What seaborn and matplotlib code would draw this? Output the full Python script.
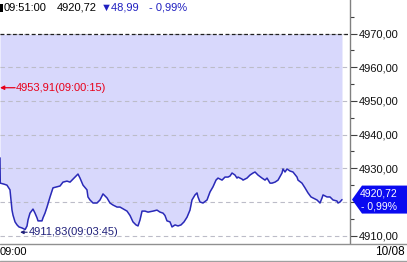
import matplotlib
matplotlib.use("Agg")
import matplotlib.pyplot as plt
import matplotlib.ticker as mticker
from matplotlib.patches import Polygon, Rectangle
from matplotlib.lines import Line2D
import seaborn as sns
import pandas as pd

# ---- data (minutes after 09:00, index value) ----
minutes = [0.00, 0.04, 0.60, 1.04, 1.34, 1.49, 1.79, 1.94, 2.24, 2.54, 2.83, 3.28, 3.75,
           4.03, 4.18, 4.47, 4.92, 5.22, 5.52, 5.67, 6.26, 6.41, 6.71, 7.01, 7.46, 7.90,
           8.50, 8.95, 9.39, 9.99, 10.44, 10.89, 11.48, 11.63, 11.93, 12.38, 12.97, 13.12,
           13.42, 13.87, 14.46, 14.91, 15.36, 15.96, 16.40, 16.85, 17.45, 17.89, 18.34,
           18.94, 19.39, 19.83, 20.28, 20.58, 20.88, 21.18, 21.62, 22.07, 22.82, 23.41,
           23.86, 24.31, 24.60, 24.90, 25.35, 25.65, 26.10, 26.54, 26.99, 27.44, 27.89,
           28.33, 28.63, 29.08, 29.38, 29.53, 29.82, 30.27, 30.87, 31.32, 31.76, 32.21,
           32.51, 33.11, 33.55, 34.00, 34.30, 34.60, 35.04, 35.34, 35.49, 36.09, 36.24,
           36.83, 37.28, 37.73, 38.03, 38.47, 39.07, 39.52, 39.82, 40.26, 40.56, 41.01,
           41.46, 42.05, 42.20, 42.50, 42.80, 43.24, 43.69, 44.29, 44.44, 45.03, 45.48,
           45.93, 46.38, 46.67, 47.27, 47.72, 48.02, 48.17, 48.76, 49.21, 49.66, 50.25,
           50.40, 50.70, 51.00]
prices = [4933.1, 4925.6, 4925.3, 4925.0, 4924.1, 4923.6, 4917.6, 4916.1, 4914.1, 4913.2,
          4912.6, 4912.3, 4911.83, 4912.9, 4914.7, 4916.7, 4917.9, 4916.7, 4915.3, 4914.4,
          4914.4, 4915.3, 4916.7, 4918.5, 4921.5, 4924.2, 4924.5, 4924.75, 4925.9, 4926.2,
          4925.9, 4926.8, 4928.0, 4928.3, 4927.1, 4925.0, 4923.6, 4921.5, 4920.6, 4919.7,
          4919.7, 4920.6, 4922.4, 4921.2, 4919.7, 4919.1, 4918.5, 4918.5, 4918.0, 4917.3,
          4916.0, 4914.1, 4913.2, 4912.9, 4914.7, 4917.3, 4917.3, 4917.0, 4917.3, 4917.6,
          4917.0, 4916.7, 4916.0, 4914.4, 4914.1, 4912.6, 4913.2, 4912.9, 4913.2, 4914.1,
          4915.5, 4917.6, 4920.6, 4922.1, 4922.7, 4921.5, 4920.0, 4919.7, 4920.6, 4923.0,
          4924.5, 4926.5, 4927.1, 4926.5, 4927.4, 4927.4, 4927.7, 4928.6, 4928.0, 4927.1,
          4927.4, 4926.8, 4926.5, 4927.1, 4928.0, 4928.6, 4928.9, 4928.0, 4927.1, 4926.5,
          4927.1, 4925.6, 4925.6, 4925.9, 4926.5, 4928.6, 4929.8, 4928.9, 4929.8, 4929.2,
          4928.9, 4927.4, 4926.5, 4925.6, 4924.2, 4922.7, 4921.5, 4921.2, 4920.6, 4919.7,
          4921.2, 4922.1, 4921.5, 4921.5, 4920.6, 4920.3, 4919.7, 4920.0, 4920.72]
prev_close = 4969.71
last_price = 4920.72
change = -48.99
change_pct = -0.99
high_value, high_time = 4953.91, "09:00:15"
high_minute = 0.25
low_value, low_time = 4911.83, "09:03:45"
low_minute = 3.75
y_ticks = [4910, 4920, 4930, 4940, 4950, 4960, 4970]
hidden_tick_label = 4920  # covered by the current-price tag
x_start_label = "09:00"
date_label = "10/08"
header_time = "09:51:00"

df = pd.DataFrame({"minute": minutes, "price": prices})

W, H = 407, 262
sns.set_style("white")
plt.rcParams["font.family"] = ["Liberation Sans", "DejaVu Sans"]
NARROW = ["Liberation Sans Narrow", "Liberation Sans", "DejaVu Sans"]

fig = plt.figure(figsize=(W / 100, H / 100), dpi=100)
fig.patch.set_facecolor("white")

def fx(px):
    return px / W

def fy(py):
    return 1 - py / H

def fmt(v):
    return f"{v:.2f}".replace(".", ",")

ax = fig.add_axes([0, fy(243), fx(350), 243 / H])
ax.set_facecolor("white")

px_per_unit = 3.37
y_top = 4970 + 33.5 / px_per_unit
y_bot = 4970 - (243 - 33.5) / px_per_unit
ax.set_ylim(y_bot, y_top)
ax.set_xlim(0, 350 * 51 / 342)

line_color = "#2a2ab8"
ax.fill_between(df["minute"], df["price"], prev_close, color="#d8d8fc", lw=0, zorder=1)
for v in y_ticks:
    ax.axhline(v, color="#bcbcc8", lw=0.8, ls=(0, (4, 3)), zorder=2)
ax.axhline(prev_close, color="#202020", lw=0.9, ls=(0, (3, 2)), zorder=3)
sns.lineplot(data=df, x="minute", y="price", ax=ax, color=line_color, lw=1.1,
             zorder=4, estimator=None, sort=False)

# axes styling
for s in ["top", "left", "bottom"]:
    ax.spines[s].set_visible(False)
ax.spines["right"].set_color("#808080")
ax.spines["right"].set_linewidth(1.0)
ax.set_xlabel("")
ax.set_ylabel("")
ax.set_xticks([])
ax.yaxis.tick_right()
ax.set_yticks(y_ticks)
ax.yaxis.set_minor_locator(mticker.MultipleLocator(5))
ax.yaxis.set_major_formatter(mticker.FuncFormatter(
    lambda v, p: "" if abs(v - hidden_tick_label) < 1e-6 else fmt(v)))
ax.tick_params(axis="y", which="major", direction="out", length=5, width=0.8,
               color="#404040", pad=1, labelsize=8, labelcolor="#101010")
ax.tick_params(axis="y", which="minor", direction="out", length=3, width=0.8, color="#404040")
for lab in ax.get_yticklabels():
    lab.set_fontfamily(NARROW)

# high / low annotations
red = "#e8001a"
ax.annotate("", xy=(0, high_value), xytext=(high_minute + 2.0, high_value),
            arrowprops=dict(arrowstyle="-|>", color=red, lw=0.9, mutation_scale=6,
                            shrinkA=0, shrinkB=0), zorder=6, annotation_clip=False)
ax.text(high_minute + 2.1, high_value, fmt(high_value) + f"({high_time})",
        color=red, fontsize=8, va="center", ha="left", zorder=6, family=NARROW)
navy = "#20207a"
ax.annotate("", xy=(low_minute - 0.75, low_value - 0.8), xytext=(low_minute + 0.3, low_value - 0.8),
            arrowprops=dict(arrowstyle="-|>", color=navy, lw=0.8, mutation_scale=5,
                            shrinkA=0, shrinkB=0), zorder=6)
ax.text(low_minute + 0.55, low_value - 0.8, fmt(low_value) + f"({low_time})",
        color=navy, fontsize=8, va="center", ha="left", zorder=6, family=NARROW)

# header
blue_txt = "#2020c0"
fig.patches.append(Rectangle((0, fy(12)), fx(3), 8 / H, transform=fig.transFigure,
                             facecolor="black", edgecolor="none"))
fig.text(fx(4), fy(8), header_time, fontsize=8, color="black", va="center", ha="left")
fig.text(fx(57), fy(8), fmt(last_price), fontsize=8, color="black", va="center", ha="left")
fig.text(fx(101), fy(8), "▼" + fmt(abs(change)), fontsize=8,
         color=blue_txt, va="center", ha="left", family=["Liberation Sans", "DejaVu Sans"])
fig.text(fx(149), fy(8), "- " + fmt(abs(change_pct)) + "%", fontsize=8,
         color=blue_txt, va="center", ha="left")

# price tag
tag_y = 33.5 + (4970 - last_price) * px_per_unit
tag_pts = [(fx(352), fy(tag_y)), (fx(362), fy(tag_y - 14)), (fx(407), fy(tag_y - 14)),
           (fx(407), fy(tag_y + 14)), (fx(362), fy(tag_y + 14))]
fig.patches.append(Polygon(tag_pts, closed=True, transform=fig.transFigure,
                           facecolor="#0a0af0", edgecolor="none", zorder=5))
fig.text(fx(379), fy(tag_y - 6.5), fmt(last_price), color="white",
         fontsize=7.5, va="center", ha="center", zorder=6, family=NARROW)
fig.text(fx(379), fy(tag_y + 6.5), "- " + fmt(abs(change_pct)) + "%",
         color="white", fontsize=7.5, va="center", ha="center", zorder=6, family=NARROW)

# bottom axis area
fig.add_artist(Line2D([0, 1], [fy(243.5), fy(243.5)], transform=fig.transFigure,
                      color="#909090", lw=1.0))
fig.add_artist(Line2D([0, 1], [fy(261), fy(261)], transform=fig.transFigure,
                      color="#a0a0a0", lw=1.0))
fig.text(fx(0), fy(252), x_start_label, fontsize=8, color="black", va="center", ha="left")
fig.text(fx(405), fy(252), date_label, fontsize=8.5, color="black", va="center", ha="right")

fig.savefig("out.png", dpi=100, facecolor="white")
